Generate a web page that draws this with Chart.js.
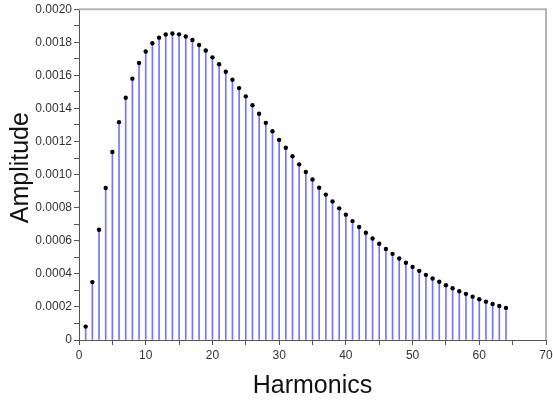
<!DOCTYPE html>
<html>
<head>
<meta charset="utf-8">
<script src="https://cdn.jsdelivr.net/npm/chart.js@4.4.1/dist/chart.umd.min.js"></script>
<style>
  html, body { margin: 0; padding: 0; background: #fff; }
  #wrap { width: 553px; height: 401px; }
</style>
</head>
<body>
<div id="wrap"><canvas id="c" width="553" height="401"></canvas></div>
<script>
// Harmonic numbers 1..64
const harmonics = [
  1, 2, 3, 4, 5, 6, 7, 8, 9, 10, 11, 12, 13, 14, 15, 16,
  17, 18, 19, 20, 21, 22, 23, 24, 25, 26, 27, 28, 29, 30, 31, 32,
  33, 34, 35, 36, 37, 38, 39, 40, 41, 42, 43, 44, 45, 46, 47, 48,
  49, 50, 51, 52, 53, 54, 55, 56, 57, 58, 59, 60, 61, 62, 63, 64
];

// Amplitude of each harmonic
const amplitudes = [
  0.000081, 0.000350, 0.000667, 0.000919, 0.001137, 0.001317, 0.001465, 0.001580,
  0.001675, 0.001744, 0.001794, 0.001828, 0.001847, 0.001853, 0.001848, 0.001835,
  0.001814, 0.001784, 0.001750, 0.001709, 0.001667, 0.001622, 0.001574, 0.001523,
  0.001473, 0.001420, 0.001368, 0.001313, 0.001262, 0.001210, 0.001162, 0.001111,
  0.001062, 0.001016, 0.000970, 0.000921, 0.000879, 0.000838, 0.000796, 0.000758,
  0.000719, 0.000683, 0.000648, 0.000614, 0.000582, 0.000550, 0.000521, 0.000493,
  0.000467, 0.000442, 0.000418, 0.000394, 0.000372, 0.000352, 0.000331, 0.000313,
  0.000295, 0.000279, 0.000262, 0.000246, 0.000232, 0.000218, 0.000206, 0.000194
];

// Axis ranges and tick steps
const xRange = [0, 70];
const xTickStep = 5;
const xLabelEvery = 10;
const yRange = [0, 0.002];
const yTickStep = 0.0001;
const yLabelEvery = 0.0002;

const xTitle = 'Harmonics';
const yTitle = '  Amplitude';

const points = harmonics.map((h, i) => ({ x: h, y: amplitudes[i] }));

// Light grey frame on the top and right of the plot area
const framePlugin = {
  id: 'frame',
  afterDraw(chart) {
    const { ctx, chartArea: a } = chart;
    ctx.save();
    ctx.strokeStyle = '#b4b4b4';
    ctx.lineWidth = 2;
    ctx.beginPath();
    ctx.moveTo(a.left, a.top);
    ctx.lineTo(a.right, a.top);
    ctx.lineTo(a.right, a.bottom);
    ctx.stroke();
    ctx.restore();
  }
};

const font = "'Liberation Sans', Arial, sans-serif";

new Chart(document.getElementById('c'), {
  data: {
    datasets: [
      {
        type: 'bar',
        data: points,
        backgroundColor: 'rgba(70,70,255,0.75)',
        borderWidth: 0,
        barThickness: 1,
        order: 2
      },
      {
        type: 'scatter',
        data: points,
        pointStyle: 'circle',
        pointRadius: 2.2,
        pointBackgroundColor: '#000',
        pointBorderWidth: 0,
        showLine: false,
        order: 1
      }
    ]
  },
  options: {
    responsive: false,
    animation: false,
    devicePixelRatio: 1,
    layout: { padding: { top: 9, right: 7, left: 0, bottom: 0 } },
    plugins: { legend: { display: false }, tooltip: { enabled: false } },
    scales: {
      x: {
        type: 'linear',
        min: xRange[0],
        max: xRange[1],
        offset: false,
        grid: {
          drawOnChartArea: false,
          drawTicks: true,
          tickLength: 5,
          tickColor: '#555',
          offset: false
        },
        border: { display: true, color: '#555', width: 1 },
        ticks: {
          stepSize: xTickStep,
          autoSkip: false,
          maxRotation: 0,
          color: '#333',
          padding: 3,
          font: { family: font, size: 12 },
          callback: v => (Math.round(v) % xLabelEvery === 0 ? String(v) : '')
        },
        title: {
          display: true,
          text: xTitle,
          color: '#111',
          font: { family: font, size: 25 },
          padding: { top: 12, bottom: 0 }
        },
        afterFit(s) {
          s.height = 61;
          s.paddingLeft = 0;
          s.paddingRight = 0;
        }
      },
      y: {
        type: 'linear',
        min: yRange[0],
        max: yRange[1],
        grid: {
          drawOnChartArea: false,
          drawTicks: true,
          tickLength: 5,
          tickColor: '#555'
        },
        border: { display: true, color: '#555', width: 1 },
        ticks: {
          stepSize: yTickStep,
          autoSkip: false,
          color: '#333',
          padding: 2,
          font: { family: font, size: 12 },
          callback: v => {
            const k = Math.round(v / yTickStep);
            const every = Math.round(yLabelEvery / yTickStep);
            if (k % every !== 0) return '';
            return k === 0 ? '0' : (k * yTickStep).toFixed(4);
          }
        },
        title: {
          display: true,
          text: yTitle,
          color: '#111',
          font: { family: font, size: 25 },
          padding: { top: 6, bottom: 0 }
        },
        afterFit(s) { s.width = 79; }
      }
    }
  },
  plugins: [framePlugin]
});
</script>
</body>
</html>
